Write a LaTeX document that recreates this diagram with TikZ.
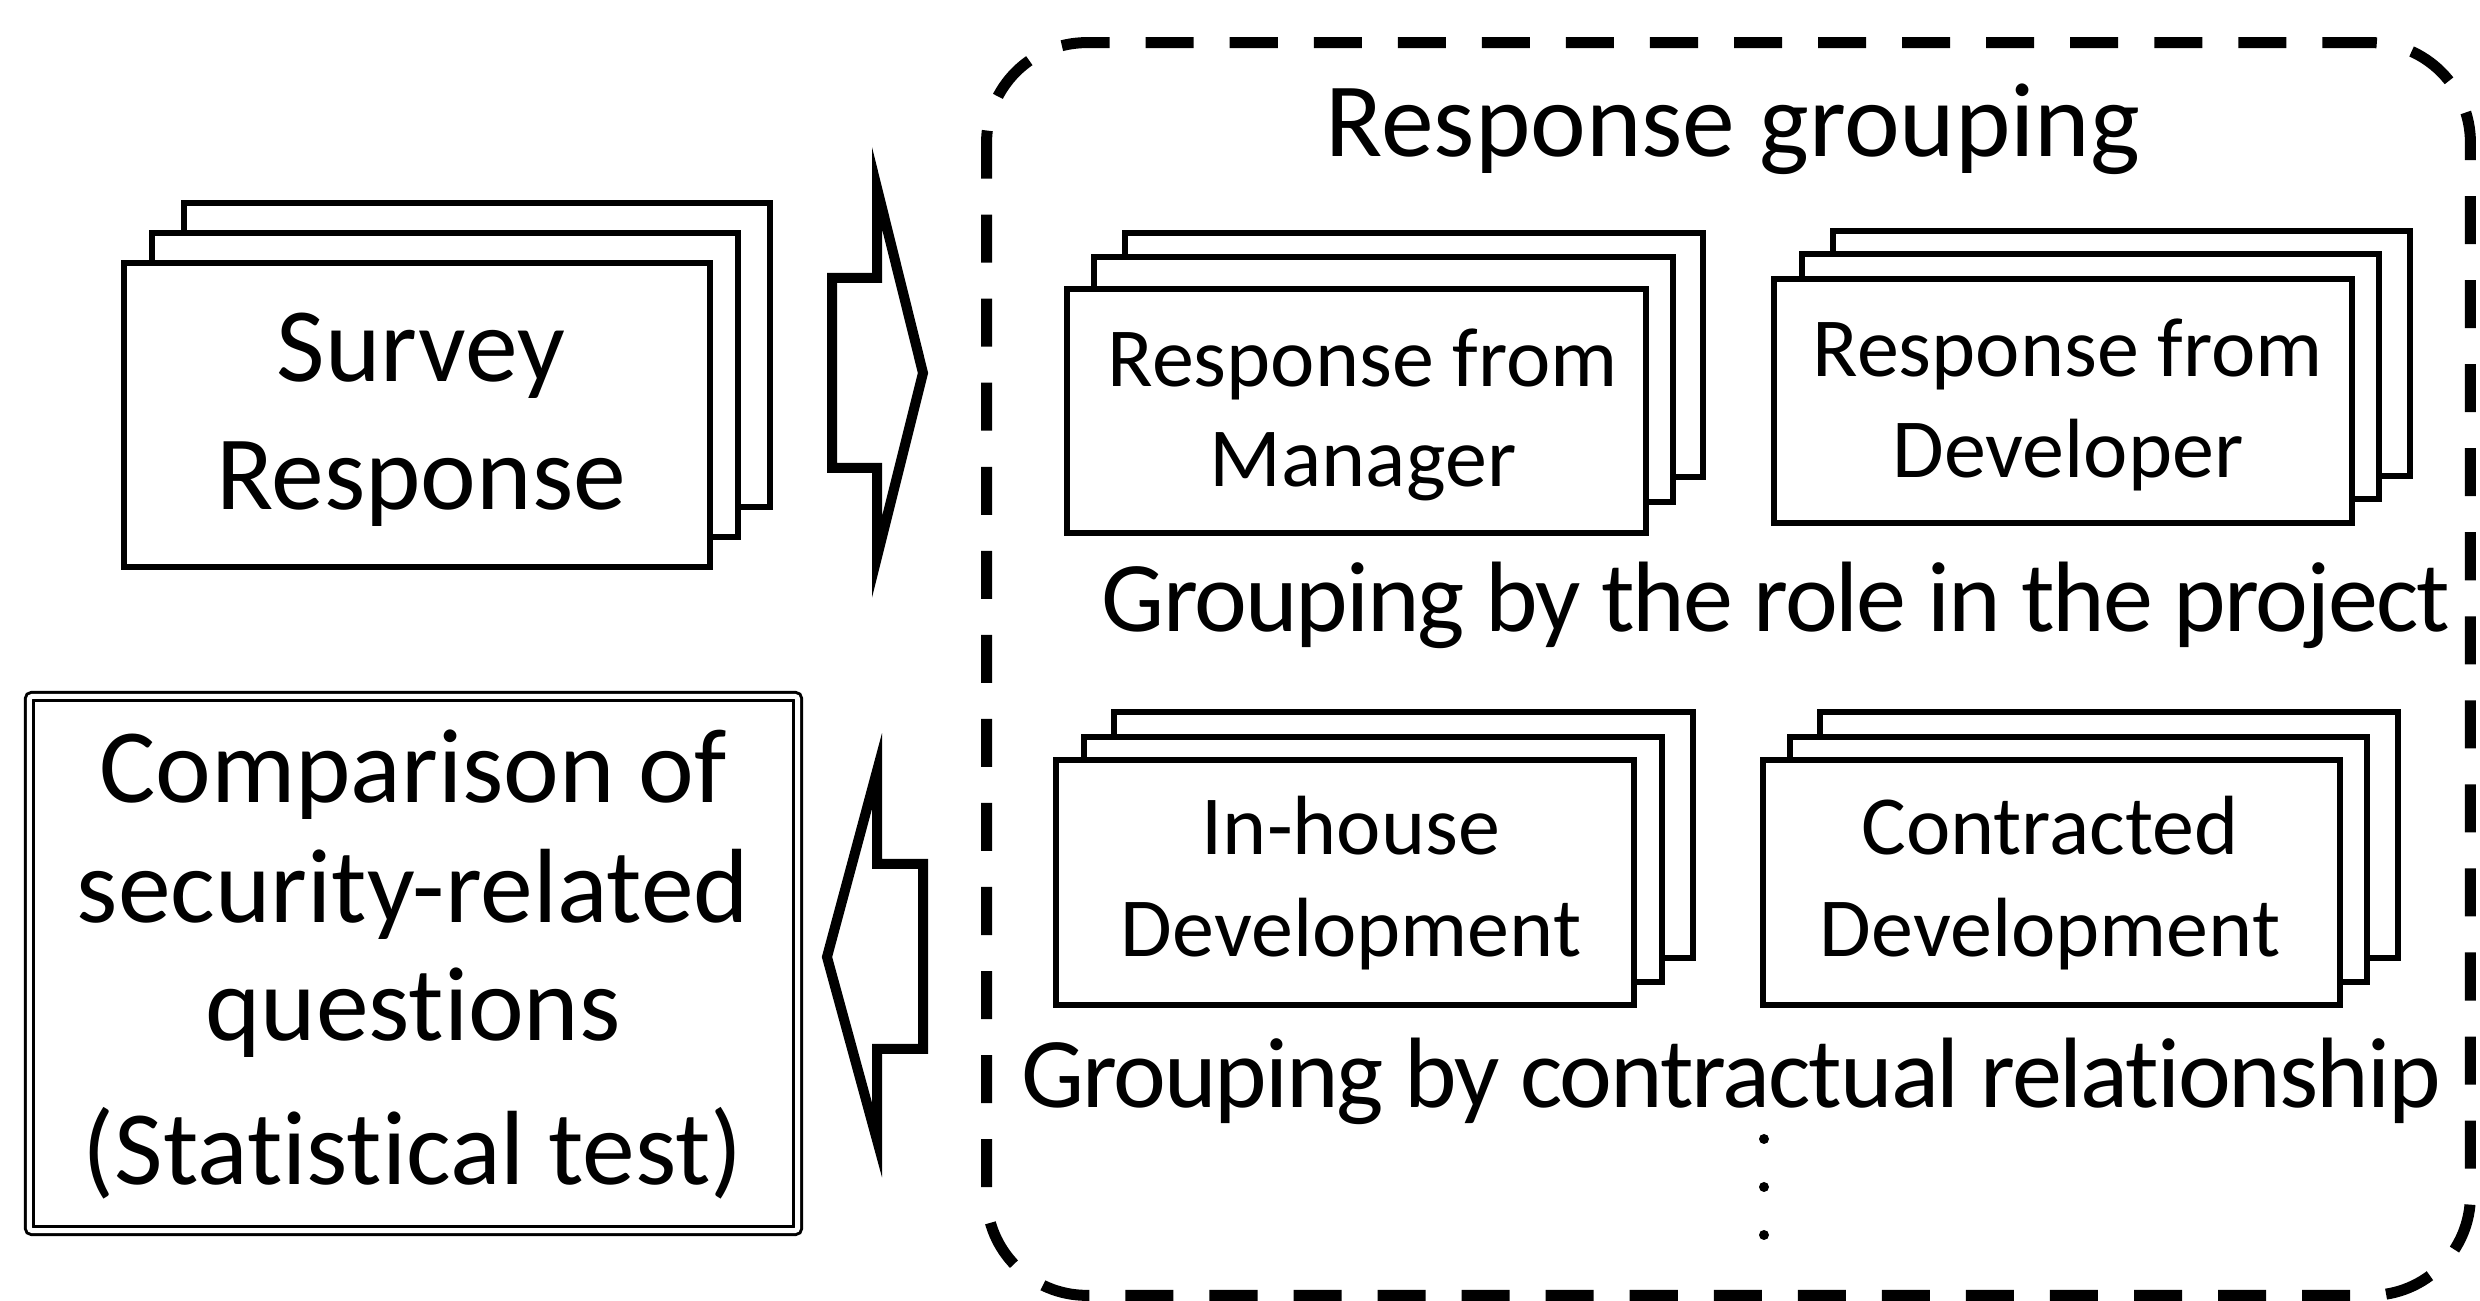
\documentclass[tikz,border=0pt]{standalone}
\usepackage{fontspec}
\setmainfont{Carlito}[Ligatures=NoCommon]
\newfontfamily\grpfont{Carlito}[Ligatures=NoCommon, LetterSpace=-2.0]
\newcommand\pg[5]{\node[page,minimum width=#4*0.1mm,minimum height=#5*0.1mm] (#1) at (#2,#3) {};}
\begin{document}
\begin{tikzpicture}[x=0.01cm,y=-0.01cm,
  page/.style={draw, fill=white, line width=0.06cm, inner sep=0pt},
  bigtxt/.style={font=\fontsize{1.055cm}{1.25cm}\selectfont, inner sep=0pt, anchor=base},
  grptxt/.style={font=\grpfont\fontsize{1.0cm}{1.2cm}\selectfont, inner sep=0pt, anchor=base},
  smalltxt/.style={font=\fontsize{0.84cm}{1.0cm}\selectfont, inner sep=0pt, anchor=base},
  blockarrow/.style={draw, line width=0.1cm, miter limit=10, fill=white},
  grpbox/.style={draw, line width=0.11cm, dash pattern=on 0.48cm off 0.36cm, rounded corners=1cm, inner sep=0pt},
  dblbox/.style={draw, line width=0.03cm, double=white, double distance=0.05cm, rounded corners=0.03cm, inner sep=0pt},
  dot/.style={circle, fill, inner sep=0pt, minimum size=0.1cm}]
\useasboundingbox (0,0) rectangle (2480,1301);
% group box
\node[grpbox, minimum width=1483*0.1mm, minimum height=1252*0.1mm] (group) at (1728.5,669) {};
\node[bigtxt] (grptitle) at (1733,157) {Response grouping};
% survey stack
\pg{s3}{477}{355}{585}{304}
\pg{s2}{445}{385}{585}{304}
\pg{s1}{417}{415}{585}{304}
\node[bigtxt] (sv1) at (421,382) {Survey};
\node[bigtxt] (sv2) at (421,510) {Response};
% manager stack
\pg{m3}{1414}{355}{578}{244}
\pg{m2}{1383.5}{379.5}{578}{244}
\pg{m1}{1356.5}{411}{578}{244}
\node[smalltxt] (mt1) at (1363,387) {Response from};
\node[smalltxt] (mt2) at (1363,487) {Manager};
% developer stack
\pg{d3}{2121.5}{353.5}{577}{244}
\pg{d2}{2090.5}{376.5}{577}{244}
\pg{d1}{2063}{401}{577}{244}
\node[smalltxt] (dt1) at (2068,377) {Response from};
\node[smalltxt] (dt2) at (2068,478) {Developer};
\node[grptxt] (role) at (1776,632) {Grouping by the role in the project};
% in-house stack
\pg{i3}{1403.5}{835}{578}{245}
\pg{i2}{1373}{859.5}{578}{245}
\pg{i1}{1345}{882.5}{578}{245}
\node[smalltxt] (it1) at (1351,855) {In-house};
\node[smalltxt] (it2) at (1351,957) {Development};
% contracted stack
\pg{c3}{2109}{835}{577}{245}
\pg{c2}{2078.5}{859.5}{577}{245}
\pg{c1}{2051.5}{882.5}{577}{245}
\node[smalltxt] (ct1) at (2050,855) {Contracted};
\node[smalltxt] (ct2) at (2050,957) {Development};
\node[grptxt] (contract) at (1731,1108) {Grouping by contractual relationship};
% dots
\node[dot] (dot1) at (1764,1139) {};
\node[dot] (dot2) at (1764,1187) {};
\node[dot] (dot3) at (1764,1235) {};
% comparison box
\node[dblbox, minimum width=768*0.1mm, minimum height=534*0.1mm] (cmp) at (413.5,963.5) {};
\node[bigtxt] (cp1) at (413,803) {Comparison of};
\node[bigtxt] (cp2) at (413,923) {security-related};
\node[bigtxt] (cp3) at (413,1041) {questions};
\node[bigtxt] (cp4) at (413,1185) {(Statistical test)};
% block arrows
\draw[blockarrow] (832,278) -- (877,278) -- (877,188) -- (923,373) -- (877,557) -- (877,468) -- (832,468) -- cycle;
\draw[blockarrow] (923,864) -- (877,864) -- (877,771) -- (827,957) -- (877,1140) -- (877,1049) -- (923,1049) -- cycle;
\end{tikzpicture}
\end{document}
